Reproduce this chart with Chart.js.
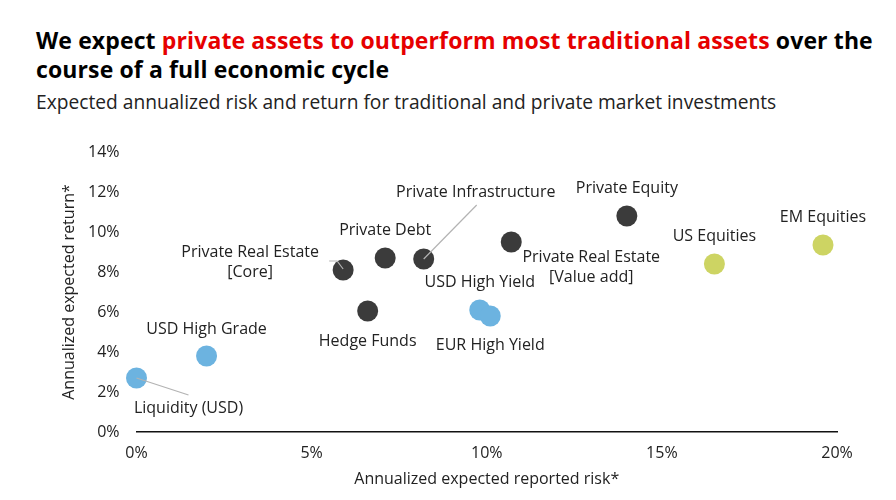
<!DOCTYPE html>
<html>
<head>
<meta charset="utf-8">
<script src="https://cdn.jsdelivr.net/npm/chart.js@4/dist/chart.umd.min.js"></script>
<style>
  html, body { margin: 0; padding: 0; background: #fff; }
  body { width: 896px; height: 500px; position: relative; overflow: hidden; font-family: 'Open Sans', 'Noto Sans', sans-serif; }
  .title { position: absolute; left: 36px; top: 26px; font-size: 23px; font-weight: 700; line-height: 29px; color: #000; letter-spacing: 0.12px; white-space: nowrap; }
  .title .red { color: #e60000; }
  .subtitle { position: absolute; left: 36px; top: 88px; font-size: 19.2px; color: #222; white-space: nowrap; }
  #wrap { position: absolute; left: 0; top: 0; width: 896px; height: 500px; }
</style>
</head>
<body>
<div class="title">We expect <span class="red">private assets to outperform most traditional assets</span> over the<br>course of a full economic cycle</div>
<div class="subtitle">Expected annualized risk and return for traditional and private market investments</div>
<div id="wrap"><canvas id="chart"></canvas></div>
<script>
// Expected risk / return per asset class
const names = ['Liquidity (USD)', 'USD High Grade', 'USD High Yield', 'EUR High Yield',
  'Private Real Estate\n[Core]', 'Private Debt', 'Private Infrastructure', 'Hedge Funds',
  'Private Real Estate\n[Value add]', 'Private Equity', 'US Equities', 'EM Equities'];
const risk = [0.0, 2.0, 9.8, 10.1, 5.9, 7.1, 8.2, 6.6, 10.7, 14.0, 16.5, 19.6];
const ret = [2.7, 3.8, 6.1, 5.8, 8.1, 8.7, 8.65, 6.05, 9.5, 10.8, 8.4, 9.35];
const group = ['bonds', 'bonds', 'bonds', 'bonds', 'private', 'private', 'private', 'private',
  'private', 'private', 'equities', 'equities'];
const xTicks = [0, 5, 10, 15, 20];
const yTicks = [0, 2, 4, 6, 8, 10, 12, 14];

const COLORS = { private: '#3b3b3b', bonds: '#6cb3e0', equities: '#cdd463' };
const TEXT = '#222';
const FONT = { size: 16, family: 'Open Sans' };

// label placement relative to each point (px): [dx, dy of first line centre]
const labelOffset = {
  'Liquidity (USD)': [52, 30],
  'USD High Grade': [0, -27],
  'USD High Yield': [0, -28],
  'EUR High Yield': [0, 29],
  'Private Real Estate\n[Core]': [-93, -18],
  'Private Debt': [0, -28],
  'Private Infrastructure': [52, -67],
  'Hedge Funds': [0, 30],
  'Private Real Estate\n[Value add]': [80, 15],
  'Private Equity': [0, -28],
  'US Equities': [0, -28],
  'EM Equities': [0, -28],
};
// leader lines, in px relative to point
const leaders = {
  'Liquidity (USD)': [[0, 0], [52, 17]],
  'Private Real Estate\n[Core]': [[0, -1], [-6, -9], [-14, -9]],
  'Private Infrastructure': [[0, 0], [53, -54]],
};

const groups = ['private', 'bonds', 'equities'];
const datasets = groups.map(g => ({
  label: g,
  data: names.map((n, i) => ({ x: risk[i], y: ret[i] })).filter((d, i) => group[i] === g),
  backgroundColor: COLORS[g],
  borderWidth: 0,
  pointRadius: 10.5,
  pointHoverRadius: 10.5,
  clip: false,
}));

const labelPlugin = {
  id: 'pointLabels',
  afterDatasetsDraw(chart) {
    const ctx = chart.ctx;
    const xs = chart.scales.x, ys = chart.scales.y;
    ctx.save();
    names.forEach((n, i) => {
      const px = xs.getPixelForValue(risk[i]);
      const py = ys.getPixelForValue(ret[i]);
      if (leaders[n]) {
        ctx.strokeStyle = '#b3b3b3';
        ctx.lineWidth = 1.2;
        ctx.beginPath();
        leaders[n].forEach((p, k) => k ? ctx.lineTo(px + p[0], py + p[1]) : ctx.moveTo(px + p[0], py + p[1]));
        ctx.stroke();
      }
      const [dx, dy] = labelOffset[n];
      ctx.fillStyle = TEXT;
      ctx.font = '16px "Open Sans", sans-serif';
      ctx.textAlign = 'center';
      ctx.textBaseline = 'middle';
      n.split('\n').forEach((line, k) => ctx.fillText(line, px + dx, py + dy + k * 20));
    });
    ctx.restore();
  }
};

new Chart(document.getElementById('chart'), {
  type: 'scatter',
  data: { datasets },
  options: {
    responsive: true,
    maintainAspectRatio: false,
    animation: false,
    layout: { padding: { left: 60, right: 59, top: 152, bottom: 0 } },
    plugins: { legend: { display: false }, tooltip: { enabled: false } },
    scales: {
      x: {
        type: 'linear', min: 0, max: 20,
        afterBuildTicks: s => { s.ticks = xTicks.map(v => ({ value: v })); },
        afterFit: s => { s.height = 68; },
        grid: { display: false, drawTicks: false },
        border: { display: true, color: '#111', width: 1.6 },
        ticks: { padding: 12, color: TEXT, font: FONT, callback: v => v + '%' },
        title: { display: true, text: 'Annualized expected reported risk*', color: TEXT,
          font: FONT, padding: { top: 4, bottom: 11 } },
      },
      y: {
        type: 'linear', min: 0, max: 14,
        afterBuildTicks: s => { s.ticks = yTicks.map(v => ({ value: v })); },
        afterFit: s => { s.width = 76.5; },
        grid: { display: false, drawTicks: false },
        border: { display: false },
        ticks: { padding: 17, color: TEXT, font: FONT, callback: v => v + '%' },
        title: { display: true, text: 'Annualized expected return*', color: TEXT,
          font: FONT, padding: { top: 0, bottom: 0 } },
      },
    },
  },
  plugins: [labelPlugin],
});
</script>
</body>
</html>
